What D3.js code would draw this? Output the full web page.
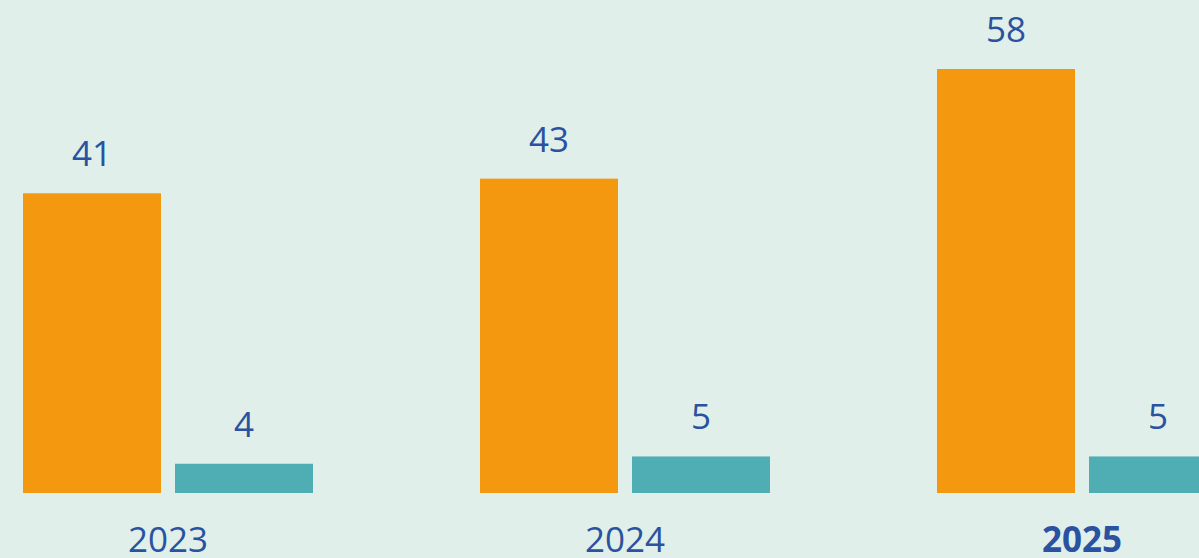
<!DOCTYPE html>
<html>
<head>
<meta charset="utf-8">
<script src="https://cdn.jsdelivr.net/npm/d3@7"></script>
<style>
  html, body { margin: 0; padding: 0; background: #e0efea; overflow: hidden; }
  svg { display: block; }
</style>
</head>
<body>
<svg id="chart" width="1199" height="558"></svg>
<script>
// data
const years = ["2023", "2024", "2025"];
const seriesKeys = ["primary", "secondary"];
const primaryValues = [41, 43, 58];
const secondaryValues = [4, 5, 5];
const boldYears = ["2025"];

const svg = d3.select("#chart"),
  width = +svg.attr("width"),
  height = +svg.attr("height");

const baseline = 493;
const colors = { primary: "#f4980f", secondary: "#4faeb3" };
const textColor = "#2a52a0";
const font = "'Open Sans', 'Noto Sans', sans-serif";

const rows = years.map((year, i) => ({
  year,
  values: [
    { key: "primary", value: primaryValues[i] },
    { key: "secondary", value: secondaryValues[i] },
  ],
}));

// outer band: one per year, step 457px starting at x=23
const x0 = d3.scaleBand().domain(years).range([23, 23 + 457 * 3]).padding(0);

// inner band: two bars of 138px with a 14px gap
const x1 = d3
  .scaleBand()
  .domain(seriesKeys)
  .range([0, 290])
  .paddingInner(14 / 152)
  .paddingOuter(0);

const y = d3.scaleLinear().domain([0, 58]).range([baseline, 69]);

svg.append("rect")
  .attr("width", width)
  .attr("height", height)
  .attr("fill", "#e0efea");

const groups = svg
  .selectAll(".group")
  .data(rows)
  .join("g")
  .attr("class", "group")
  .attr("transform", (d) => `translate(${x0(d.year)},0)`);

// bars
groups
  .selectAll("rect")
  .data((d) => d.values)
  .join("rect")
  .attr("x", (d) => x1(d.key))
  .attr("y", (d) => y(d.value))
  .attr("width", x1.bandwidth())
  .attr("height", (d) => baseline - y(d.value))
  .attr("fill", (d) => colors[d.key]);

// value labels
groups
  .selectAll(".value")
  .data((d) => d.values)
  .join("text")
  .attr("class", "value")
  .attr("x", (d) => x1(d.key) + x1.bandwidth() / 2)
  .attr("y", (d) => y(d.value) - 27)
  .attr("text-anchor", "middle")
  .attr("fill", textColor)
  .style("font-family", font)
  .style("font-size", "35px")
  .text((d) => d.value);

// year labels
groups
  .append("text")
  .attr("x", 145)
  .attr("y", 552)
  .attr("text-anchor", "middle")
  .attr("fill", textColor)
  .style("font-family", font)
  .style("font-size", "35px")
  .style("font-weight", (d) => (boldYears.includes(d.year) ? 700 : 400))
  .text((d) => d.year);
</script>
</body>
</html>
